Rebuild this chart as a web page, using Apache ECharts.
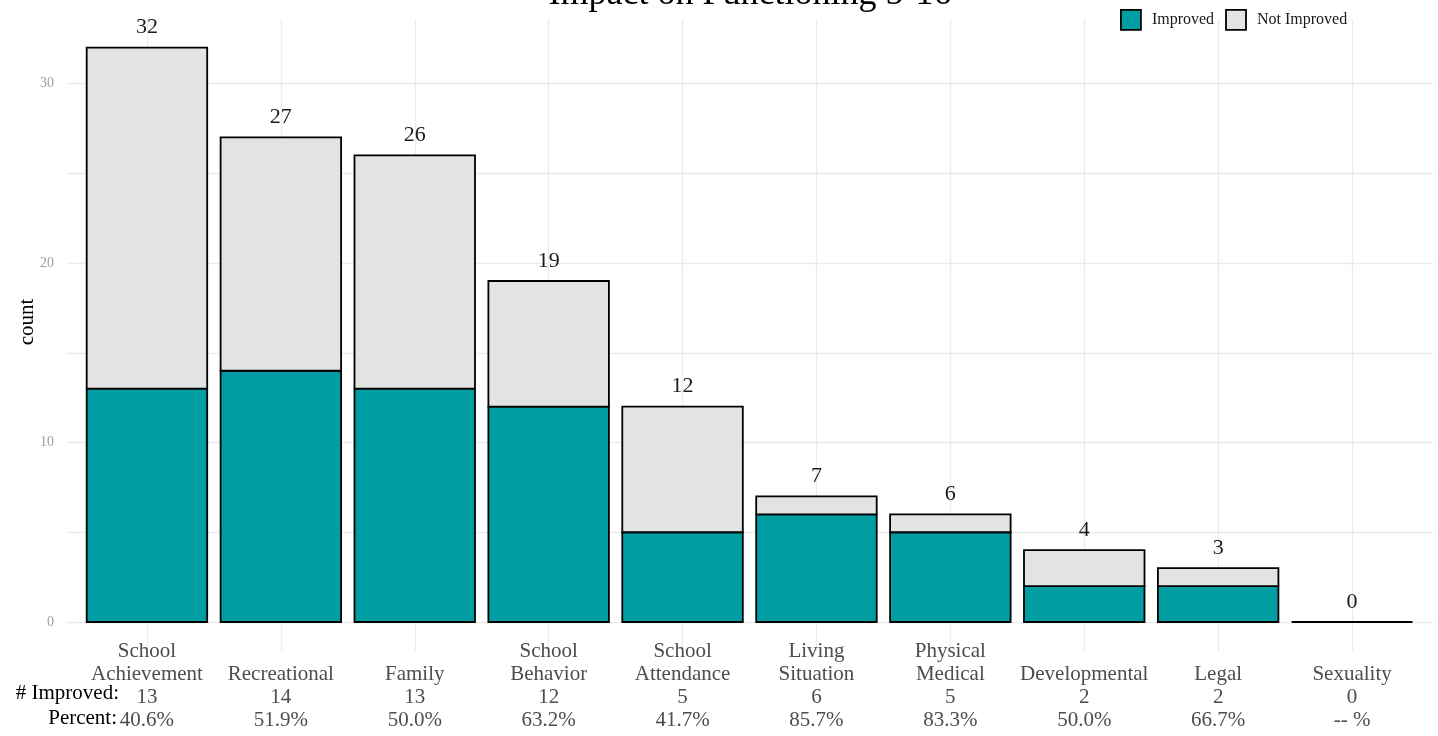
<!DOCTYPE html>
<html>
<head>
<meta charset="utf-8">
<script src="https://cdn.jsdelivr.net/npm/echarts@6/dist/echarts.min.js"></script>
<style>
html,body{margin:0;padding:0;background:#fff;}
#chart{width:1438px;height:736px;}
</style>
</head>
<body>
<div id="chart"></div>
<script>
const categories = ['School\nAchievement','Recreational','Family','School\nBehavior','School\nAttendance','Living\nSituation','Physical\nMedical','Developmental','Legal','Sexuality'];
const improved = [13,14,13,12,5,6,5,2,2,0];
const notImproved = [19,13,13,7,7,1,1,2,1,0];
const totals = [32,27,26,19,12,7,6,4,3,0];
const improvedLabels = ['13','14','13','12','5','6','5','2','2','0'];
const percentLabels = ['40.6%','51.9%','50.0%','63.2%','41.7%','85.7%','83.3%','50.0%','66.7%','-- %'];
const yTickLabels = [0,10,20,30];
const gridValues = [0,5,10,15,20,25,30];

const FONT = '"Liberation Serif", "DejaVu Serif", serif';
const TEAL = '#009da3';
const GREY = '#e3e3e3';
const chart = echarts.init(document.getElementById('chart'), null, {renderer:'canvas'});

const gridLineData = gridValues.map(v => ({yAxis: v}))
  .concat(categories.map((c, i) => ({xAxis: i + 1})));

// [categoryIndex, top value, base value]
const improvedData = improved.map((v, i) => [i, v, 0]);
const notImprovedData = notImproved.map((v, i) => [i, improved[i] + v, improved[i]]);

function makeRender(fill, withLabel) {
  return function (params, api) {
    const idx = api.value(0);
    const top = api.coord([idx, api.value(1)]);
    const bot = api.coord([idx, api.value(2)]);
    const w = api.size([1, 0])[0] * 0.9;
    const children = [{
      type: 'rect',
      shape: {x: top[0] - w / 2, y: top[1], width: w, height: bot[1] - top[1]},
      style: {fill: fill, stroke: '#000', lineWidth: 1.8}
    }];
    if (withLabel) {
      children.push({
        type: 'text', x: top[0], y: top[1] - 9,
        style: {text: String(totals[params.dataIndex]), fontFamily: FONT, fontSize: 22,
                fill: '#1a1a1a', align: 'center', verticalAlign: 'bottom'}
      });
    }
    return {type: 'group', children: children};
  };
}

const option = {
  animation: false,
  backgroundColor: '#ffffff',
  legend: {
    data: ['Improved', 'Not Improved'],
    left: 1120, top: 9, padding: 0,
    itemWidth: 20, itemHeight: 20, itemGap: 11,
    icon: 'rect',
    itemStyle: {borderColor: '#000', borderWidth: 1.8},
    textStyle: {fontFamily: FONT, fontSize: 16, color: '#1a1a1a', padding: [0,0,0,6]},
    selectedMode: false
  },
  grid: [
    {left: 80, right: 19, top: 19, bottom: 114, containLabel: false},
    {left: 66.7, right: 5.5, top: 19, bottom: 85.3, containLabel: false}
  ],
  xAxis: [
    {
      type: 'category', gridIndex: 0, data: categories,
      axisLine: {show: false}, axisTick: {show: false}, splitLine: {show: false},
      axisLabel: {
        interval: 0, margin: 18, fontFamily: FONT, fontSize: 21, lineHeight: 23, color: '#4d4d4d',
        formatter: function (value, idx) {
          const parts = value.split('\n');
          if (parts.length === 1) parts.unshift('');
          return parts.concat([improvedLabels[idx], percentLabels[idx]]).join('\n');
        }
      }
    },
    {type: 'value', gridIndex: 1, min: 0.4, max: 10.6, show: false}
  ],
  yAxis: [
    {
      type: 'value', gridIndex: 0, min: 0, max: 33.6, interval: 10,
      axisLine: {show: false}, axisTick: {show: false}, splitLine: {show: false},
      axisLabel: {
        margin: 26, fontFamily: FONT, fontSize: 14, color: '#9e9e9e',
        formatter: function (v) { return yTickLabels.indexOf(v) >= 0 ? String(v) : ''; }
      }
    },
    {type: 'value', gridIndex: 1, min: -1.6, max: 33.6, show: false}
  ],
  series: [
    {
      name: 'grid', type: 'line', xAxisIndex: 1, yAxisIndex: 1, data: [], z: 0, silent: true,
      symbol: 'none',
      markLine: {
        silent: true, symbol: 'none', animation: false, z: 0,
        label: {show: false},
        lineStyle: {color: '#ebebeb', width: 1.3, type: 'solid'},
        data: gridLineData
      }
    },
    {
      name: 'Improved', type: 'custom', xAxisIndex: 0, yAxisIndex: 0, z: 3,
      data: improvedData, encode: {x: 0, y: [1, 2]},
      itemStyle: {color: TEAL, borderColor: '#000', borderWidth: 1.8},
      renderItem: makeRender(TEAL, false)
    },
    {
      name: 'Not Improved', type: 'custom', xAxisIndex: 0, yAxisIndex: 0, z: 3,
      data: notImprovedData, encode: {x: 0, y: [1, 2]},
      itemStyle: {color: GREY, borderColor: '#000', borderWidth: 1.8},
      renderItem: makeRender(GREY, true)
    }
  ],
  graphic: [
    {type: 'text', x: 750, y: -5, z: 10,
     style: {text: 'Impact on Functioning 5-16', fontFamily: FONT, fontSize: 36, fill: '#000', align: 'center', verticalAlign: 'middle'}},
    {type: 'text', x: 27, y: 322, rotation: Math.PI / 2, z: 10,
     style: {text: 'count', fontFamily: FONT, fontSize: 21, fill: '#000', align: 'center', verticalAlign: 'middle'}},
    {type: 'text', x: 119, y: 693, z: 10,
     style: {text: '# Improved:', fontFamily: FONT, fontSize: 21, fill: '#000', align: 'right', verticalAlign: 'middle'}},
    {type: 'text', x: 117, y: 718, z: 10,
     style: {text: 'Percent:', fontFamily: FONT, fontSize: 21, fill: '#000', align: 'right', verticalAlign: 'middle'}}
  ]
};
chart.setOption(option);
</script>
</body>
</html>
